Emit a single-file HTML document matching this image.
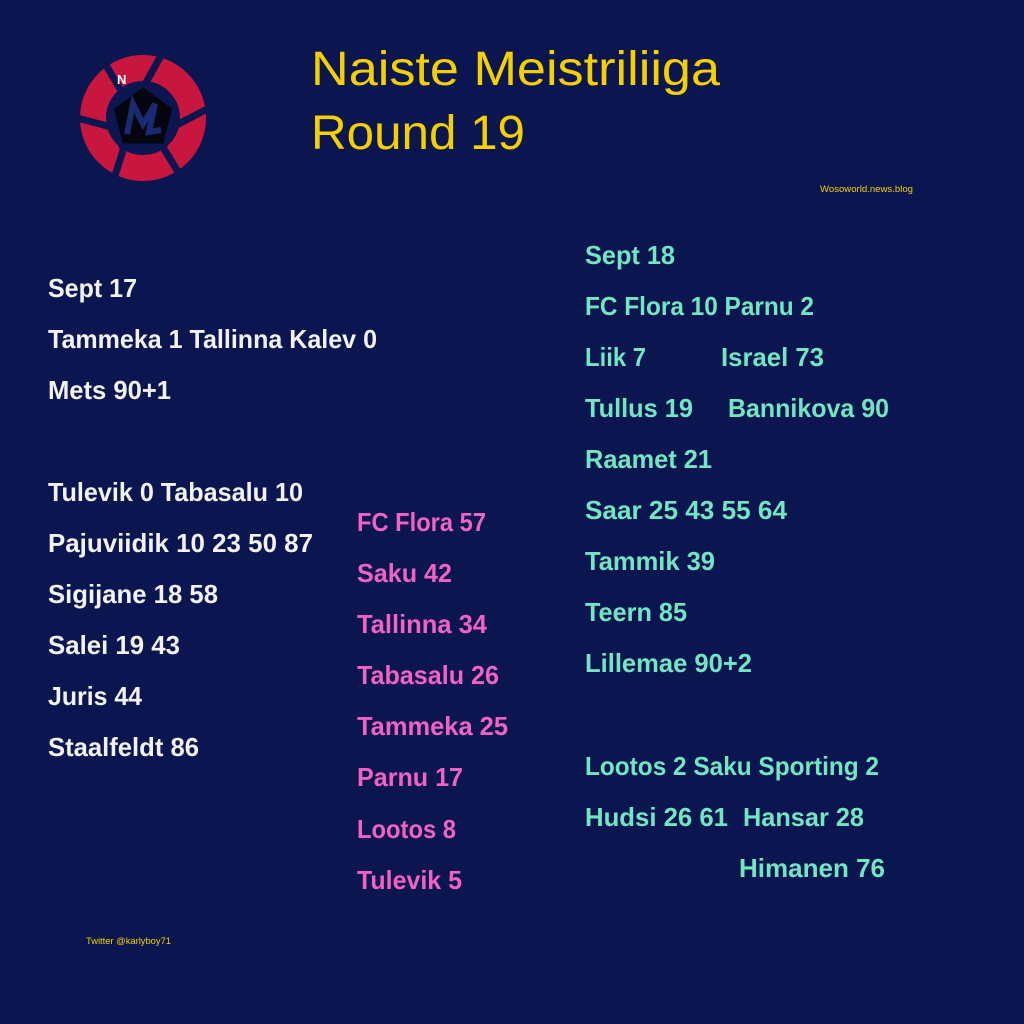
<!DOCTYPE html>
<html><head><meta charset="utf-8"><style>
html,body{margin:0;padding:0;background:#0b1650;}
svg{display:block}
</style></head><body>
<svg width="1024" height="1024" xmlns="http://www.w3.org/2000/svg">
<rect width="1024" height="1024" fill="#0b1650"/>
<!-- logo -->
<g transform="translate(143,118)">
<circle r="50" fill="none" stroke="#c8163e" stroke-width="26"/>
<g stroke="#0b1650" stroke-width="7">
<line x1="0" y1="-30" x2="20" y2="-66"/>
<line x1="28" y1="10" x2="66" y2="-10"/>
<line x1="18" y1="26" x2="40" y2="62"/>
<line x1="-18" y1="26" x2="-30" y2="64"/>
<line x1="-28" y1="10" x2="-66" y2="0"/>
<line x1="-20" y1="-24" x2="-40" y2="-58"/>
</g>
<polygon points="0,-34 32,-10 22,28 -22,28 -32,-10" fill="#050510" stroke="#0b1650" stroke-width="5"/>
<path d="M-16,16 L-10,-14 L0,6 L12,-14 L6,14 L18,12" fill="none" stroke="#1a2a70" stroke-width="6"/>
<text x="-26" y="-34" font-family="Liberation Sans,sans-serif" font-weight="bold" font-size="13" fill="#fff">N</text>
</g>
<g font-family="Liberation Sans, sans-serif">
<text x="311" y="85" font-size="48" fill="#f5d000" textLength="409" lengthAdjust="spacingAndGlyphs">Naiste Meistriliiga</text>
<text x="311" y="149" font-size="48" fill="#f5d000" textLength="214" lengthAdjust="spacingAndGlyphs">Round 19</text>
<text x="820" y="192" font-size="9" fill="#f5d000" textLength="93" lengthAdjust="spacingAndGlyphs">Wosoworld.news.blog</text>
<text x="86" y="944" font-size="9" fill="#f5d000" textLength="85" lengthAdjust="spacingAndGlyphs">Twitter @karlyboy71</text>
</g>
<g font-family="Liberation Sans, sans-serif" font-weight="bold" font-size="26" lengthAdjust="spacingAndGlyphs">
<g fill="#f2f2f2">
<text x="48" y="297" textLength="89" lengthAdjust="spacingAndGlyphs">Sept 17</text>
<text x="48" y="348" textLength="329" lengthAdjust="spacingAndGlyphs">Tammeka 1 Tallinna Kalev 0</text>
<text x="48" y="399" textLength="123" lengthAdjust="spacingAndGlyphs">Mets 90+1</text>
<text x="48" y="501" textLength="255" lengthAdjust="spacingAndGlyphs">Tulevik 0 Tabasalu 10</text>
<text x="48" y="552" textLength="265" lengthAdjust="spacingAndGlyphs">Pajuviidik 10 23 50 87</text>
<text x="48" y="603" textLength="170" lengthAdjust="spacingAndGlyphs">Sigijane 18 58</text>
<text x="48" y="654" textLength="132" lengthAdjust="spacingAndGlyphs">Salei 19 43</text>
<text x="48" y="705" textLength="94" lengthAdjust="spacingAndGlyphs">Juris 44</text>
<text x="48" y="756" textLength="151" lengthAdjust="spacingAndGlyphs">Staalfeldt 86</text>
</g>
<g fill="#f062c4">
<text x="357" y="531" textLength="129" lengthAdjust="spacingAndGlyphs">FC Flora 57</text>
<text x="357" y="582" textLength="95" lengthAdjust="spacingAndGlyphs">Saku 42</text>
<text x="357" y="633" textLength="130" lengthAdjust="spacingAndGlyphs">Tallinna 34</text>
<text x="357" y="684" textLength="142" lengthAdjust="spacingAndGlyphs">Tabasalu 26</text>
<text x="357" y="735" textLength="151" lengthAdjust="spacingAndGlyphs">Tammeka 25</text>
<text x="357" y="786" textLength="106" lengthAdjust="spacingAndGlyphs">Parnu 17</text>
<text x="357" y="838" textLength="99" lengthAdjust="spacingAndGlyphs">Lootos 8</text>
<text x="357" y="889" textLength="105" lengthAdjust="spacingAndGlyphs">Tulevik 5</text>
</g>
<g fill="#72e6c2">
<text x="585" y="264" textLength="90" lengthAdjust="spacingAndGlyphs">Sept 18</text>
<text x="585" y="315" textLength="229" lengthAdjust="spacingAndGlyphs">FC Flora 10 Parnu 2</text>
<text x="585" y="366" textLength="61" lengthAdjust="spacingAndGlyphs">Liik 7</text>
<text x="721" y="366" textLength="103" lengthAdjust="spacingAndGlyphs">Israel 73</text>
<text x="585" y="417" textLength="108" lengthAdjust="spacingAndGlyphs">Tullus 19</text>
<text x="728" y="417" textLength="161" lengthAdjust="spacingAndGlyphs">Bannikova 90</text>
<text x="585" y="468" textLength="127" lengthAdjust="spacingAndGlyphs">Raamet 21</text>
<text x="585" y="519" textLength="202" lengthAdjust="spacingAndGlyphs">Saar 25 43 55 64</text>
<text x="585" y="570" textLength="130" lengthAdjust="spacingAndGlyphs">Tammik 39</text>
<text x="585" y="621" textLength="102" lengthAdjust="spacingAndGlyphs">Teern 85</text>
<text x="585" y="672" textLength="167" lengthAdjust="spacingAndGlyphs">Lillemae 90+2</text>
<text x="585" y="775" textLength="294" lengthAdjust="spacingAndGlyphs">Lootos 2 Saku Sporting 2</text>
<text x="585" y="826" textLength="143" lengthAdjust="spacingAndGlyphs">Hudsi 26 61</text>
<text x="743" y="826" textLength="121" lengthAdjust="spacingAndGlyphs">Hansar 28</text>
<text x="739" y="877" textLength="146" lengthAdjust="spacingAndGlyphs">Himanen 76</text>
</g>
</g>
</svg>
</body></html>
